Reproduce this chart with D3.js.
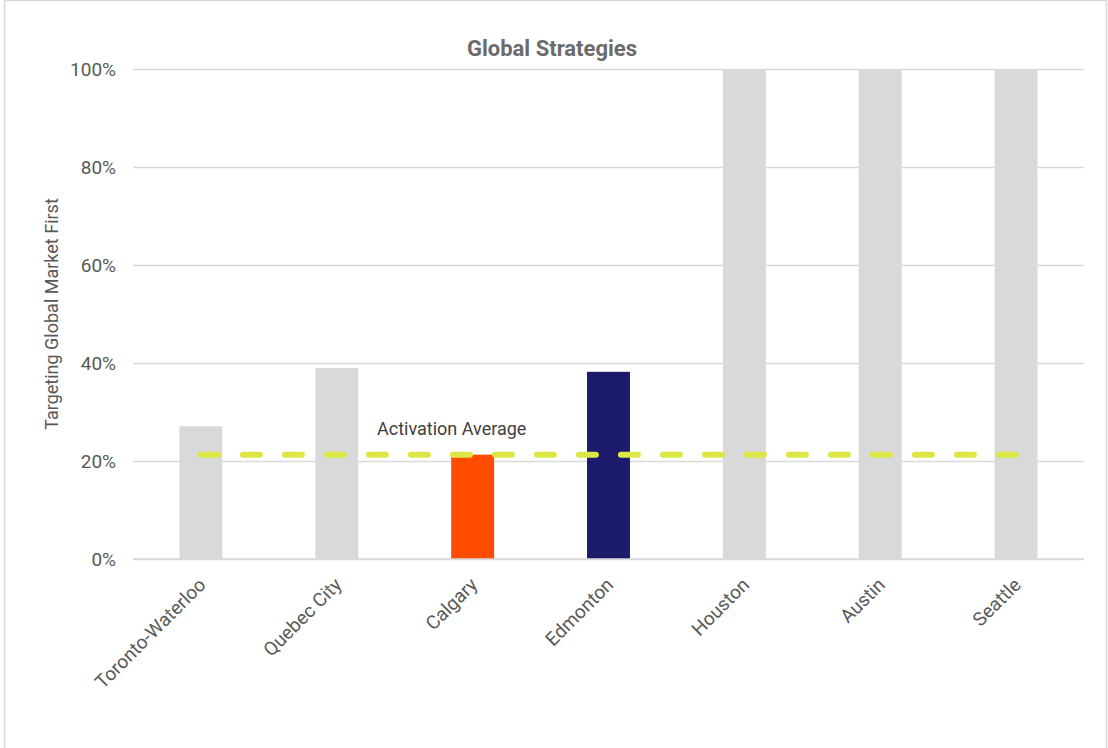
<!DOCTYPE html>
<html>
<head>
<meta charset="utf-8">
<script src="https://cdn.jsdelivr.net/npm/d3@7"></script>
<style>
  html, body { margin: 0; padding: 0; background: #ffffff; }
  svg { display: block; font-family: Roboto, "Noto Sans", sans-serif; }
</style>
</head>
<body>
<svg id="chart" width="1108" height="748"></svg>
<script>
// Share of startups targeting the global market first, by ecosystem
const cities = ["Toronto-Waterloo", "Quebec City", "Calgary", "Edmonton", "Houston", "Austin", "Seattle"];
const globalFirst = [27.1, 39.0, 21.3, 38.2, 100, 100, 100];
const barColors = ["#d9d9d9", "#d9d9d9", "#ff4c00", "#1b1a6b", "#d9d9d9", "#d9d9d9", "#d9d9d9"];
const activationAverage = 21.3;
const yTicks = [0, 20, 40, 60, 80, 100];

const W = 1108, H = 748;
const plot = { left: 133, right: 1084, top: 69, bottom: 559 };

const svg = d3.select("#chart");

// chart frame
svg.append("rect")
  .attr("x", 4.5).attr("y", 0.5)
  .attr("width", W - 6).attr("height", H + 2)
  .attr("fill", "#ffffff")
  .attr("stroke", "#d9d9d9").attr("stroke-width", 1.5);

const x = d3.scaleBand()
  .domain(cities)
  .range([plot.left, plot.right])
  .paddingInner(0.684)
  .paddingOuter(0.342);

const y = d3.scaleLinear()
  .domain([0, 100])
  .range([plot.bottom, plot.top]);

// horizontal gridlines + y labels
const yAxis = d3.axisLeft(y)
  .tickValues(yTicks)
  .tickSize(-(plot.right - plot.left))
  .tickPadding(17)
  .tickFormat(d => d + "%");

const gy = svg.append("g")
  .attr("transform", `translate(${plot.left},0)`)
  .call(yAxis);
gy.select(".domain").remove();
gy.selectAll(".tick line")
  .attr("stroke", "#d9d9d9").attr("stroke-width", 1.5);
gy.selectAll(".tick text")
  .attr("fill", "#595959")
  .attr("font-size", 19)
  .attr("font-family", "Roboto, sans-serif");

// bars
svg.append("g").selectAll("rect")
  .data(cities)
  .join("rect")
  .attr("x", d => x(d))
  .attr("y", (d, i) => y(globalFirst[i]))
  .attr("width", x.bandwidth())
  .attr("height", (d, i) => y(0) - y(globalFirst[i]))
  .attr("fill", (d, i) => barColors[i]);

// baseline
svg.append("line")
  .attr("x1", plot.left).attr("x2", plot.right)
  .attr("y1", y(0)).attr("y2", y(0))
  .attr("stroke", "#d9d9d9").attr("stroke-width", 1.5);

// category labels
const xAxis = d3.axisBottom(x).tickSize(0).tickPadding(0);
const gx = svg.append("g")
  .attr("transform", `translate(0,${plot.bottom})`)
  .call(xAxis);
gx.select(".domain").remove();
gx.selectAll(".tick text")
  .attr("fill", "#595959")
  .attr("font-size", 19)
  .attr("font-family", "Roboto, sans-serif")
  .attr("text-anchor", "end")
  .attr("dy", null)
  .attr("y", null)
  .attr("transform", "translate(6,27) rotate(-45)");

// average reference line
const first = cities[0], last = cities[cities.length - 1];
svg.append("line")
  .attr("x1", x(first) + x.bandwidth() / 2)
  .attr("x2", x(last) + x.bandwidth() / 2)
  .attr("y1", y(activationAverage)).attr("y2", y(activationAverage))
  .attr("stroke", "#dce745")
  .attr("stroke-width", 6)
  .attr("stroke-linecap", "round")
  .attr("stroke-dasharray", "17 25");

svg.append("text")
  .attr("x", 377)
  .attr("y", y(activationAverage) - 20)
  .attr("fill", "#404040")
  .attr("font-size", 18)
  .text("Activation Average");

// title
svg.append("text")
  .attr("x", 552).attr("y", 56)
  .attr("text-anchor", "middle")
  .attr("fill", "#6b6b6b")
  .attr("font-size", 22)
  .attr("font-weight", "bold")
  .text("Global Strategies");

// y axis title
svg.append("text")
  .attr("transform", `translate(58,${(plot.top + plot.bottom) / 2}) rotate(-90)`)
  .attr("text-anchor", "middle")
  .attr("fill", "#595959")
  .attr("font-size", 18)
  .text("Targeting Global Market First");
</script>
</body>
</html>
